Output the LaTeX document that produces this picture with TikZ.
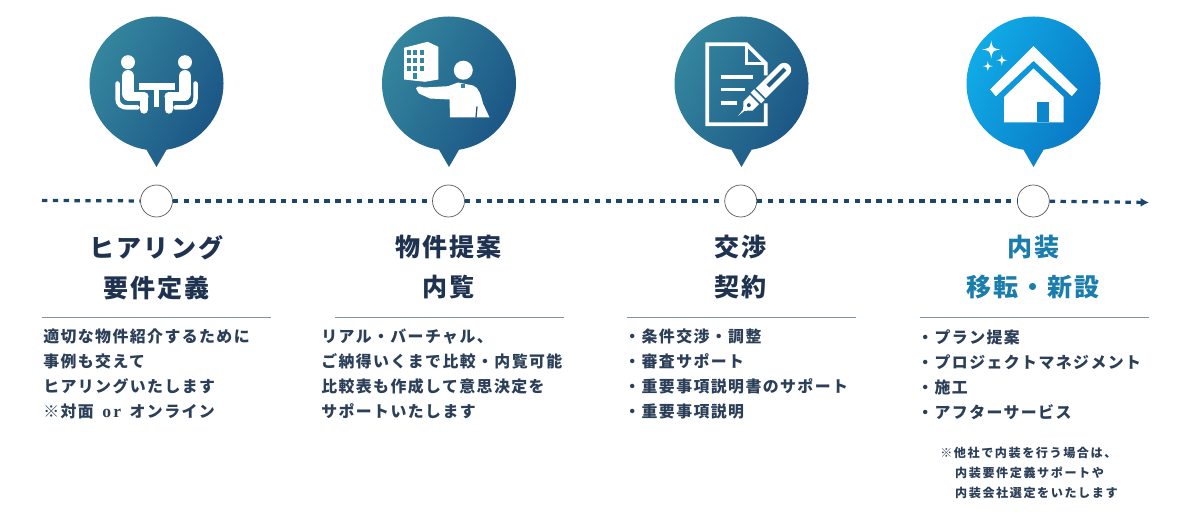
\documentclass[tikz,border=0pt]{standalone}
\usepackage{fontspec}
\usepackage{xcolor}
\usetikzlibrary{arrows.meta, positioning, calc}

\newfontfamily\jphead[LetterSpace=8]{Noto Sans CJK JP}
\newfontfamily\jpbody[LetterSpace=9]{Noto Sans CJK JP}
\newfontfamily\jpnote[LetterSpace=13]{Noto Sans CJK JP}
\newfontfamily\latinor[LetterSpace=12]{Liberation Serif}

\definecolor{navy}{HTML}{1F3350}
\definecolor{bodyink}{HTML}{2B3F58}
\definecolor{tealA}{HTML}{35879F}
\definecolor{tealB}{HTML}{1A5384}
\definecolor{skyA}{HTML}{10ACE8}
\definecolor{skyB}{HTML}{0A75C2}
\definecolor{headblue}{HTML}{1A7DAE}
\definecolor{rulegray}{HTML}{7F95A3}
\definecolor{dashblue}{HTML}{1A4670}

\newcommand{\sparkle}[3]{%
  \fill[white] (#1,#2-#3) .. controls (#1+.15*#3,#2-.15*#3) .. (#1+#3,#2)
    .. controls (#1+.15*#3,#2+.15*#3) .. (#1,#2+#3)
    .. controls (#1-.15*#3,#2+.15*#3) .. (#1-#3,#2)
    .. controls (#1-.15*#3,#2-.15*#3) .. (#1,#2-#3) -- cycle;}

\begin{document}
\begin{tikzpicture}[
    x=0.025cm, y=-0.025cm,
    stopdot/.style={draw=black!65, fill=white, circle, line width=0.5pt, minimum size=0.8cm, inner sep=0pt},
    dots/.style={draw=dashblue, line width=2.3pt, dash pattern=on 3.8pt off 3.9pt},
    bubbledark/.style={shading=axis, left color=tealA, right color=tealB, shading angle=62},
    bubblesky/.style={shading=axis, left color=skyA, right color=skyB, shading angle=62},
    headtxt/.style={align=center, inner sep=0pt, text=navy, font=\jphead\bfseries\fontsize{17.8}{28.45}\selectfont},
    desctxt/.style={align=left, inner sep=0pt, anchor=north west, text=bodyink, font=\jpbody\bfseries\fontsize{11.3}{17.78}\selectfont},
    notetxt/.style={align=left, inner sep=0pt, anchor=north west, text=bodyink, font=\jpnote\bfseries\fontsize{8.6}{14.2}\selectfont},
    rulesty/.style={draw=rulegray, line width=0.9pt},
    stroke/.style={draw=white, line join=round, line cap=round}
  ]
  \useasboundingbox (0,0) rectangle (1200,518);
  % Bubbles
  \foreach \cx/\sty in {156.5/bubbledark, 449/bubbledark, 741.5/bubbledark, 1033.5/bubblesky} {
    \path[\sty] (\cx,83.5) ++(98.6:67) arc[start angle=98.6, end angle=441.4, radius=67] -- (\cx,167) -- cycle;
  }
  % Icon: meeting
  \begin{scope}[shift={(156.5,83.5)}]
    \foreach \side in {1,-1} {
      \begin{scope}[xscale=\side]
        \fill[white] (-28.5,-21.3) circle (7);
        \draw[stroke, line width=9.2pt, line cap=round] (-28.5,-7) -- (-28.5,10);
        \draw[stroke, line width=6.5pt] (-28.5,13) -- (-12.5,13);
        \draw[stroke, line width=6pt] (-12.5,13) -- (-12.5,26);
        \draw[stroke, line width=3.2pt] (-39,0) -- (-39,15) .. controls (-39,21) and (-35,24) .. (-29,24) -- (-19,24);
      \end{scope}
    }
    \fill[white] (-17.3,-0.7) rectangle (18.3,6.7);
    \fill[white] (-2.7,6.7) rectangle (2.7,23.3);
  \end{scope}
  % Icon: building and agent
  \begin{scope}[shift={(449,83.5)}]
    \fill[white] (-45,-35.7) -- (-21.3,-41.7) -- (-10.7,-36.7) -- (-10.7,-4) -- (-24,-1.7) -- (-45,-4) -- cycle;
    \foreach \wx in {-41.7,-35.7,-29} {
      \foreach \wy in {-33,-25,-17} {
        \fill[tealA] (\wx,\wy) rectangle ++(4,4.5);
      }
    }
    \fill[tealA] (-35.7,-10) rectangle ++(4,6);
    \fill[white] (14.3,-13.3) circle (9.5);
    \fill[white] (-33,5) .. controls (-31,2) and (-29,3) .. (-25,4) -- (-1,2.7) -- (9,-1) -- (24,2)
      .. controls (30,4) and (32,12) .. (34,20) -- (40.5,34) -- (1,34) -- (0.5,16) -- (-19,15) -- (-30,10) -- cycle;
    \fill[tealA] (12,1) rectangle ++(4,4);
    \draw[tealB, line width=0.9pt] (28,23) -- (27,34);
  \end{scope}
  % Icon: contract
  \begin{scope}[shift={(741.5,83.5)}]
    \draw[white, line width=2.6pt, line join=miter] (24.3,-8) -- (24.3,-20) -- (5,-39.3) -- (-34.3,-39.3) -- (-34.3,40.7) -- (24.3,40.7) -- (24.3,20);
    \draw[white, line width=2.2pt, line join=miter] (5,-39.3) -- (5,-20) -- (24.3,-20);
    \foreach \ly/\lx in {-6.7/11.7, 6/3.3, 19.3/-4.3} {
      \draw[white, line width=2.6pt] (-21,\ly) -- (\lx,\ly);
    }
    \begin{scope}[shift={(-3.3,32.3)}, rotate=45]
      \fill[white] (0,0) -- (8,-1) -- (14,-6.5) -- (23,-6.5) -- (23,6.5) -- (14,6.5) -- (8,1) -- cycle;
      \fill[tealB] (15,0) circle (2);
      \fill[white] (25,-7.5) rectangle (30,7.5);
      \fill[white] (32,-7) -- (65,-7) arc[start angle=-90, end angle=90, radius=7] -- (32,7) -- cycle;
      \fill[tealB!80!tealA] (42,-2) rectangle (66,2);
    \end{scope}
  \end{scope}
  % Icon: house
  \begin{scope}[shift={(1033.5,83.5)}]
    \fill[white] (0,-37.3) -- (44,6) -- (38.3,12.7) -- (0,-22.7) -- (-37.7,12.7) -- (-43.3,6) -- cycle;
    \fill[white] (0,-15) -- (30,13.3) -- (30,39) -- (-29.3,39) -- (-29.3,13.3) -- cycle;
    \fill[skyB!70!skyA] (3.3,18.3) rectangle (15.7,39);
    \sparkle{-42.3}{-34}{9}
    \sparkle{-31.7}{-23.3}{5.5}
    \sparkle{-45.7}{-17.3}{5}
  \end{scope}
  % Timeline
  \coordinate (start) at (42,200.5);
  \coordinate (end) at (1149,202.5);
  \node[stopdot] (c1) at (156.5,201) {};
  \node[stopdot] (c2) at (448.5,201) {};
  \node[stopdot] (c3) at (740.7,201) {};
  \node[stopdot] (c4) at (1033.3,201) {};
  \draw[dots] (start) -- (c1);
  \draw[dots] (c1) -- (c2);
  \draw[dots] (c2) -- (c3);
  \draw[dots] (c3) -- (c4);
  \draw[dots, -{Latex[length=6pt,width=6.5pt]}] (c4) -- (end);
  % Headings
  \node[headtxt, below=12.5pt of c1, anchor=north] (h1) {ヒアリング\\要件定義};
  \node[headtxt, below=12.5pt of c2, anchor=north] (h2) {物件提案\\内覧};
  \node[headtxt, below=12.5pt of c3, anchor=north] (h3) {交渉\\契約};
  \node[headtxt, below=12.5pt of c4, anchor=north, text=headblue] (h4) {内装\\移転・新設};
  % Rules
  \foreach \rx in {42,335,627,920} {
    \draw[rulesty] (\rx,317.5) -- ++(229,0);
  }
  % Descriptions
  \node[desctxt] (d1) at (43,329) {適切な物件紹介するために\\事例も交えて\\ヒアリングいたします\\※対面\hspace{2.5pt} {\latinor\bfseries\fontsize{12.5}{17.78}\selectfont or}\hspace{2.5pt} オンライン};
  \node[desctxt] (d2) at (321,329) {リアル・バーチャル、\\ご納得いくまで比較・内覧可能\\比較表も作成して意思決定を\\サポートいたします};
  \node[desctxt] (d3) at (624,329) {・条件交渉・調整\\・審査サポート\\・重要事項説明書のサポート\\・重要事項説明};
  \node[desctxt] (d4) at (917,329) {・プラン提案\\・プロジェクトマネジメント\\・施工\\・アフターサービス};
  \node[notetxt] (n1) at (940,447) {※他社で内装を行う場合は、\\\hspace*{10.6pt}内装要件定義サポートや\\\hspace*{10.6pt}内装会社選定をいたします};
\end{tikzpicture}
\end{document}
